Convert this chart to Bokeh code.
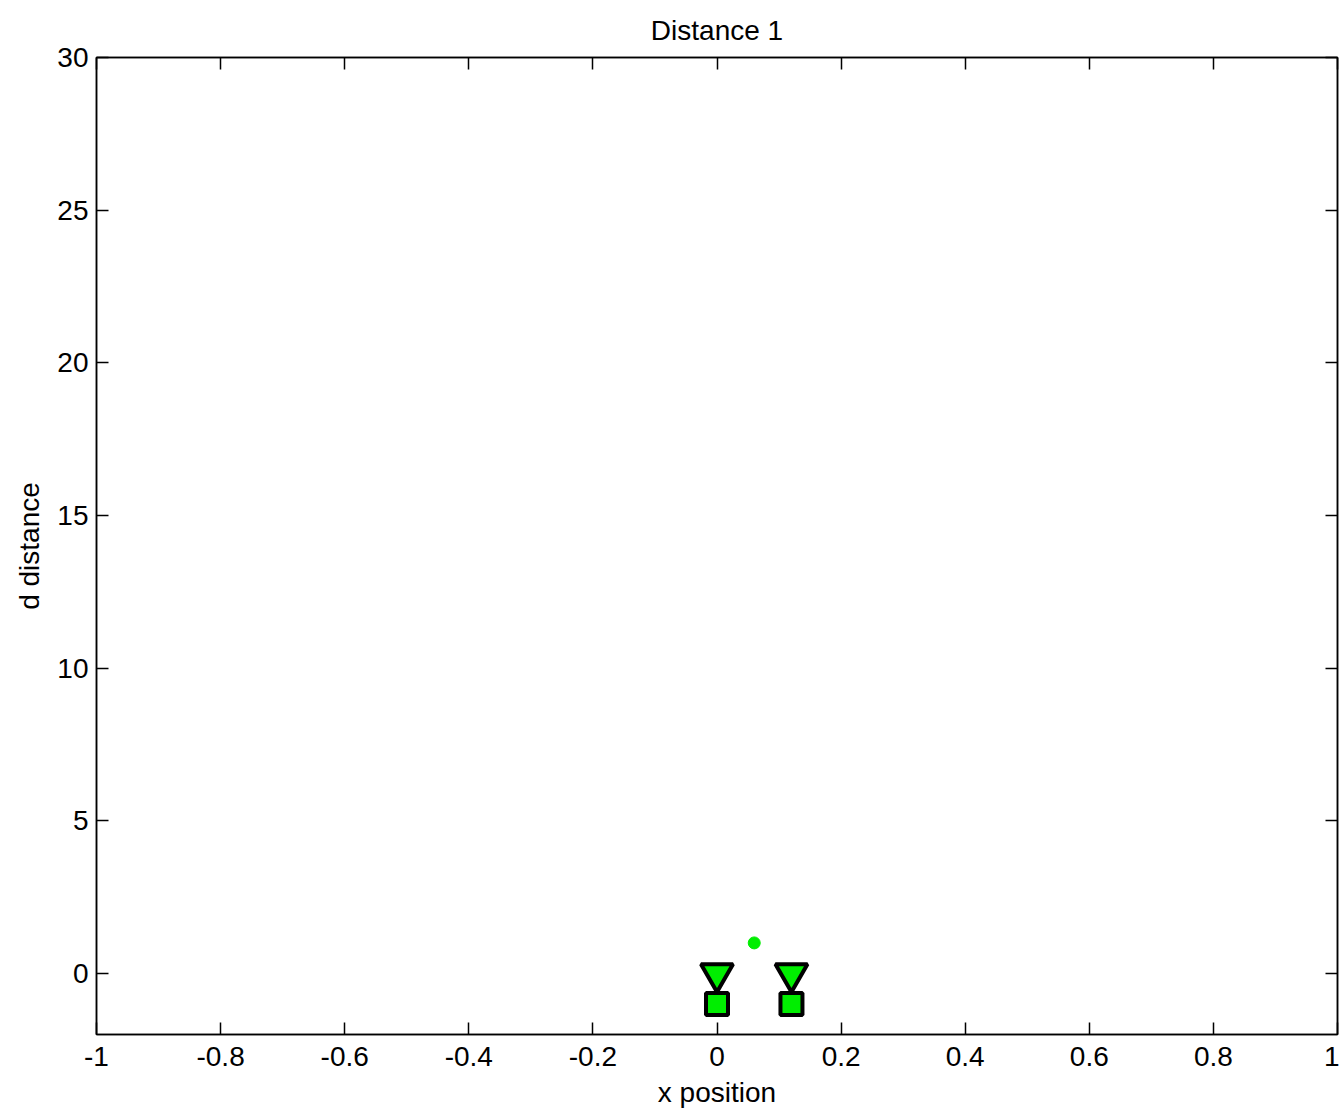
from bokeh.plotting import figure
from bokeh.models import LinearAxis, Range1d, FixedTicker
from bokeh.embed import file_html
from bokeh.resources import INLINE

# data
tri_x = [0.0, 0.12]
tri_y = [0.0, 0.0]
sq_x = [0.0, 0.12]
sq_y = [-1.0, -1.0]
dot_x = [0.06]
dot_y = [1.0]
x_ticks = [-1, -0.8, -0.6, -0.4, -0.2, 0, 0.2, 0.4, 0.6, 0.8, 1]
x_labels = ["-1", "-0.8", "-0.6", "-0.4", "-0.2", "0", "0.2", "0.4", "0.6", "0.8", "1"]
y_ticks = [0, 5, 10, 15, 20, 25, 30]

FONT = "Liberation Sans"
FS = "28px"

p = figure(width=1339, height=1112, output_backend="svg", toolbar_location=None,
           x_range=Range1d(-1, 1), y_range=Range1d(-2, 30),
           min_border_left=96, min_border_right=2, min_border_top=56, min_border_bottom=78,
           title="Distance 1", x_axis_label="x position", y_axis_label="d distance")
p.xgrid.visible = False
p.ygrid.visible = False
p.outline_line_color = "black"
p.outline_line_width = 1.5
p.background_fill_color = "white"
p.border_fill_color = "white"

p.title.align = "center"
p.title.vertical_align = "bottom"
p.title.text_font = FONT
p.title.text_font_size = FS
p.title.text_font_style = "normal"
p.title.text_color = "black"
p.title.standoff = 24

for ax, ticks in ((p.xaxis[0], x_ticks), (p.yaxis[0], y_ticks)):
    ax.ticker = FixedTicker(ticks=ticks)
    ax.major_tick_in = 12
    ax.major_tick_out = 0
    ax.minor_tick_line_color = None
    ax.axis_line_color = "black"
    ax.axis_line_width = 1.5
    ax.major_tick_line_color = "black"
    ax.major_tick_line_width = 1.5
    ax.major_label_text_font = FONT
    ax.major_label_text_font_size = FS
    ax.major_label_text_color = "black"
    ax.axis_label_text_font = FONT
    ax.axis_label_text_font_size = FS
    ax.axis_label_text_font_style = "normal"
    ax.axis_label_text_color = "black"
    ax.major_label_standoff = 10
    ax.axis_label_standoff = 6

p.xaxis[0].major_label_overrides = dict(zip(x_ticks, x_labels))
p.xaxis[0].major_label_standoff = 12
p.xaxis[0].axis_label_standoff = 8
p.yaxis[0].major_label_orientation = 0
p.yaxis[0].major_label_standoff = 8
p.yaxis[0].axis_label_standoff = 9

for loc, ticks in (("above", x_ticks), ("right", y_ticks)):
    ax = LinearAxis(ticker=FixedTicker(ticks=ticks))
    ax.major_tick_in = 12
    ax.major_tick_out = 0
    ax.minor_tick_line_color = None
    ax.axis_line_color = "black"
    ax.axis_line_width = 1.5
    ax.major_tick_line_color = "black"
    ax.major_tick_line_width = 1.5
    ax.major_label_text_font_size = "0px"
    ax.major_label_standoff = 0
    ax.major_label_text_color = None
    p.add_layout(ax, loc)

p.scatter(tri_x, tri_y, marker="inverted_triangle", size=32, fill_color="#00ee00",
          line_color="black", line_width=4)
p.scatter(sq_x, sq_y, marker="square", size=22, fill_color="#00ee00",
          line_color="black", line_width=4)
p.scatter(dot_x, dot_y, marker="circle", size=12, fill_color="#00ee00",
          line_color="#00ee00", line_width=1)

open("out.html", "w").write(file_html(p, INLINE))
